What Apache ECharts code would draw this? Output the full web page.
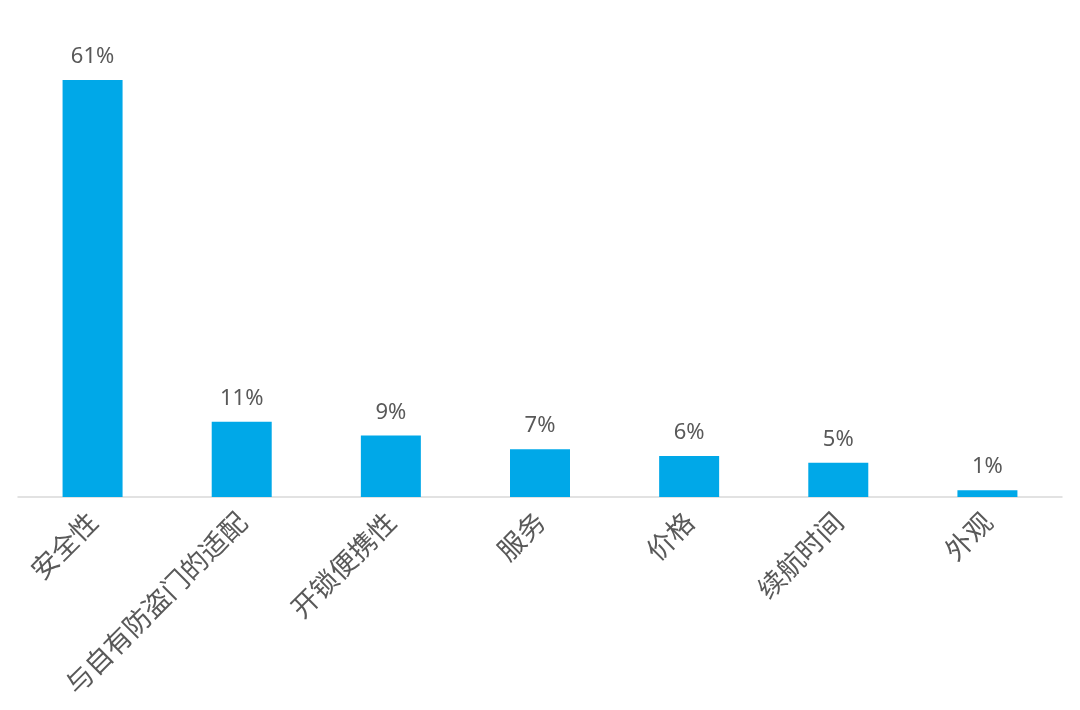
<!DOCTYPE html>
<html lang="zh">
<head>
    <meta charset="UTF-8">
    <title>Chart</title>
    <script src="https://cdn.jsdelivr.net/npm/echarts@6/dist/echarts.min.js"></script>
    <style>
        html, body { margin: 0; padding: 0; background: #fff; }
        #box { width: 1080px; height: 710px; }
    </style>
</head>
<body>
    <div id="box"></div>
<script>
    // 数据
    var categories = ['安全性', '与自有防盗门的适配', '开锁便携性', '服务', '价格', '续航时间', '外观'];
    var values = [61, 11, 9, 7, 6, 5, 1];

    var mEcharts = echarts.init(document.querySelector('#box'));
    var option = {
        animation: false,
        grid: { left: 18, right: 18, top: 80, bottom: 213, containLabel: false },
        xAxis: {
            type: 'category',
            data: categories,
            axisLine: { lineStyle: { color: '#d9d9d9', width: 1.5 } },
            axisTick: { show: false },
            axisLabel: {
                rotate: 45,
                interval: 0,
                margin: 20,
                color: '#595959',
                fontSize: 27,
                fontFamily: 'Noto Sans CJK SC'
            }
        },
        yAxis: {
            type: 'value',
            min: 0,
            max: 61,
            show: false,
            splitLine: { show: false }
        },
        series: [{
            type: 'bar',
            data: values,
            barWidth: 60,
            itemStyle: { color: '#00A8E8' },
            label: {
                show: true,
                position: 'top',
                distance: 12,
                formatter: '{c}%',
                color: '#595959',
                fontSize: 22,
                fontFamily: 'Noto Sans'
            }
        }]
    };
    mEcharts.setOption(option);
</script>
</body>
</html>
